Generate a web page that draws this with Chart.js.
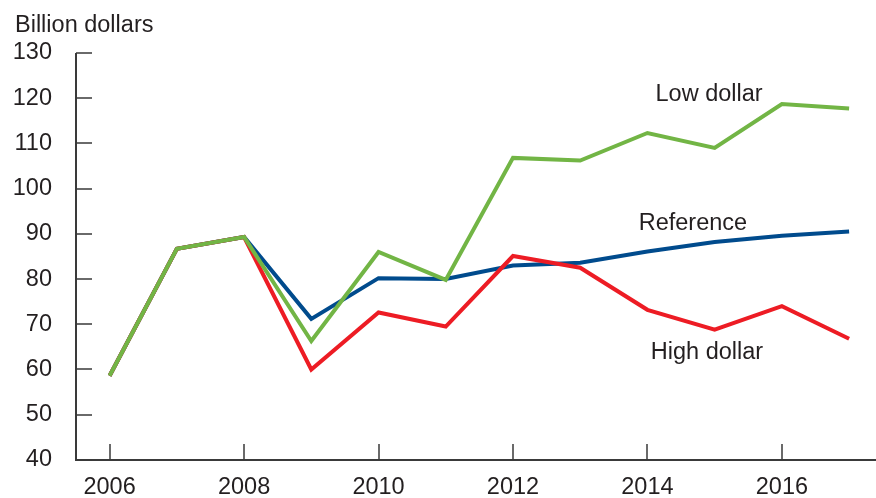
<!DOCTYPE html>
<html>
<head>
<meta charset="utf-8">
<script src="https://cdn.jsdelivr.net/npm/chart.js@4/dist/chart.umd.min.js"></script>
<style>
  html, body { margin: 0; padding: 0; background: #fff; }
  #wrap { position: relative; width: 876px; height: 498px; }
</style>
</head>
<body>
<div id="wrap"><canvas id="c" width="876" height="498"></canvas></div>
<script>
const years = [2006, 2007, 2008, 2009, 2010, 2011, 2012, 2013, 2014, 2015, 2016, 2017];
const reference = [58.6, 86.7, 89.3, 71.2, 80.2, 80.0, 83.0, 83.6, 86.1, 88.2, 89.6, 90.5];
const lowDollar = [58.6, 86.7, 89.3, 66.3, 86.0, 79.8, 106.8, 106.2, 112.3, 109.0, 118.7, 117.7];
const highDollar = [58.6, 86.7, 89.3, 60.0, 72.6, 69.5, 85.1, 82.5, 73.2, 68.8, 74.0, 66.8];
const xTickValues = [2006, 2008, 2010, 2012, 2014, 2016];
const yTickValues = [40, 50, 60, 70, 80, 90, 100, 110, 120, 130];
const yAxisTitle = 'Billion dollars';
const seriesLabels = [
  { text: 'Low dollar', x: 2014.12, y: 119.3 },
  { text: 'Reference', x: 2013.87, y: 90.8 },
  { text: 'High dollar', x: 2014.05, y: 62.4 }
];

const FONT = '"Liberation Sans", Arial, sans-serif';
const TEXT = '#231f20';
const AXIS = '#3a3a3a';

const toPts = arr => arr.map((v, i) => ({ x: years[i], y: v }));

const customAxes = {
  id: 'customAxes',
  afterDraw(chart) {
    const ctx = chart.ctx;
    const xs = chart.scales.x, ys = chart.scales.y;
    const a = chart.chartArea;
    ctx.save();
    ctx.strokeStyle = AXIS;
    ctx.lineWidth = 2;
    ctx.beginPath();
    ctx.moveTo(a.left, a.top);
    ctx.lineTo(a.left, a.bottom);
    ctx.lineTo(chart.width, a.bottom);
    ctx.stroke();
    ctx.lineWidth = 1.5;
    ctx.beginPath();
    yTickValues.forEach(v => {
      const py = Math.round(ys.getPixelForValue(v));
      ctx.moveTo(a.left, py);
      ctx.lineTo(a.left + 16, py);
    });
    xTickValues.forEach(v => {
      const px = Math.round(xs.getPixelForValue(v));
      ctx.moveTo(px, a.bottom);
      ctx.lineTo(px, a.bottom - 16);
    });
    ctx.stroke();
    ctx.fillStyle = TEXT;
    ctx.font = '23.5px ' + FONT;
    ctx.textAlign = 'left';
    ctx.textBaseline = 'alphabetic';
    ctx.fillText(yAxisTitle, 15, 32);
    seriesLabels.forEach(l => {
      ctx.fillText(l.text, xs.getPixelForValue(l.x), ys.getPixelForValue(l.y));
    });
    ctx.restore();
  }
};

new Chart(document.getElementById('c'), {
  type: 'line',
  data: {
    datasets: [
      { label: 'Low dollar', data: toPts(lowDollar), borderColor: '#72b545', borderWidth: 4 },
      { label: 'High dollar', data: toPts(highDollar), borderColor: '#ed1c24', borderWidth: 4 },
      { label: 'Reference', data: toPts(reference), borderColor: '#004b8d', borderWidth: 4 }
    ]
  },
  options: {
    responsive: false,
    animation: false,
    layout: { padding: { top: 53, right: 0, left: 0, bottom: 0 } },
    elements: { point: { radius: 0 }, line: { tension: 0, borderJoinStyle: 'miter', borderCapStyle: 'butt' } },
    plugins: { legend: { display: false }, tooltip: { enabled: false } },
    scales: {
      x: {
        type: 'linear',
        min: 2005.5,
        max: 2017.4,
        afterBuildTicks: s => { s.ticks = xTickValues.map(v => ({ value: v })); },
        afterFit: s => { s.height = 35; },
        grid: { display: false, drawTicks: false },
        border: { display: false },
        ticks: { color: TEXT, font: { size: 23.5, family: FONT }, padding: 14, maxRotation: 0, autoSkip: false, callback: v => String(v) }
      },
      y: {
        min: 40,
        max: 130,
        afterBuildTicks: s => { s.ticks = yTickValues.map(v => ({ value: v })); },
        afterFit: s => { s.width = 76; },
        grid: { display: false, drawTicks: false },
        border: { display: false },
        ticks: { color: TEXT, font: { size: 23.5, family: FONT }, padding: 24 }
      }
    }
  },
  plugins: [customAxes]
});
</script>
</body>
</html>
